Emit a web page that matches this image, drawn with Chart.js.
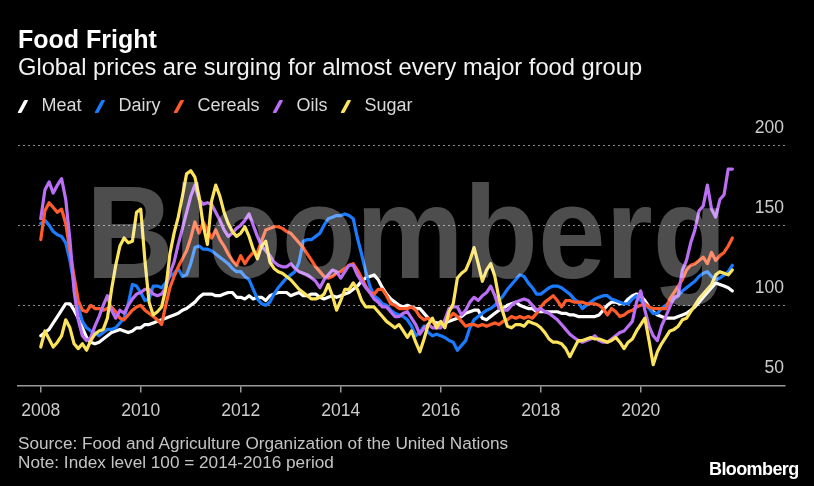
<!DOCTYPE html>
<html>
<head>
<meta charset="utf-8">
<script src="https://cdn.jsdelivr.net/npm/chart.js@4.4.1/dist/chart.umd.min.js"></script>
<style>
  html, body { margin: 0; padding: 0; background: #000; }
  #wrap { position: relative; width: 814px; height: 486px; background: #000; overflow: hidden; font-family: "Liberation Sans", Arial, sans-serif; }
  #c { position: absolute; left: 0; top: 0; }
  .txt { position: absolute; white-space: nowrap; line-height: 1; }
  .slash { position: absolute; width: 3.5px; height: 12.5px; transform: skewX(-28deg); border-radius: 1px; }
</style>
</head>
<body>
<div id="wrap">
  <canvas id="c" width="814" height="486"></canvas>
  <div class="txt" id="title" style="left:18px;top:27px;font-weight:bold;font-size:25px;color:#fff;">Food Fright</div>
  <div class="txt" id="subtitle" style="left:18px;top:55.5px;font-size:23.7px;color:#f2f2f2;">Global prices are surging for almost every major food group</div>
  <div id="legend"></div>
  <div class="txt" style="left:18px;top:434.5px;font-size:17.2px;color:#c4c4c4;">Source: Food and Agriculture Organization of the United Nations</div>
  <div class="txt" style="left:18px;top:453.5px;font-size:17.2px;color:#c4c4c4;">Note: Index level 100 = 2014-2016 period</div>
  <div class="txt" style="left:709px;top:459.5px;font-size:18px;font-weight:bold;letter-spacing:-0.6px;color:#fff;">Bloomberg</div>
</div>
<script>
// ---- Data (FAO sub-indices, monthly Jan 2008 - Nov 2021, 2014-2016 = 100) ----
const startYear = 2008;
const seriesNames = ["Meat", "Dairy", "Cereals", "Oils", "Sugar"];
const seriesColors = ["#ffffff", "#1b7bff", "#ff5b2b", "#bb6ff5", "#fbe35b"];
const yearTicks = [2008, 2010, 2012, 2014, 2016, 2018, 2020];
const valueTicks = [50, 100, 150, 200];

const meat = [
  81, 83, 85, 89, 93, 97, 101, 101, 97, 92, 86, 80,
  77, 76, 77, 79, 81, 83, 84, 85, 84, 83, 84, 86,
  86, 88, 88, 89, 90, 91, 92, 93, 94, 95, 97, 98,
  100, 102, 105, 107, 107, 107, 106, 106, 107, 108, 108, 105,
  105, 104, 106, 104, 105, 105, 103, 106, 107, 108, 108, 108,
  106, 107, 108, 106, 106, 107, 107, 105, 104, 105, 106, 105,
  106, 107, 108, 110, 112, 115, 117, 118, 119, 116, 111, 107,
  104, 102, 100, 99, 100, 99, 98, 98, 95, 92, 90, 89,
  89, 89, 90, 91, 92, 93, 95, 96, 97, 97, 92, 91,
  93, 95, 97, 98, 100, 101, 102, 100, 99, 98, 98, 96,
  96, 96, 96, 96, 96, 95, 95, 94, 94, 93, 93, 93,
  93, 93, 94, 97, 100, 102, 102, 101, 101, 104, 106, 107,
  106, 103, 99, 96, 94, 93, 92, 92, 92, 93, 94, 95,
  97, 99, 102, 105, 108, 111, 114, 113, 112, 111, 109
];
const dairy = [
  151, 153, 150, 146, 144, 143, 139, 128, 113, 99, 90, 86,
  84, 83, 81, 83, 85, 85, 86, 89, 92, 101, 113, 112,
  108, 103, 104, 112, 112, 111, 114, 118, 120, 123, 118, 119,
  126, 136, 137, 135, 135, 134, 132, 130, 128, 126, 123, 121,
  121, 118, 116, 110, 104, 101, 100, 102, 107, 111, 114, 117,
  119, 121, 127, 140, 141, 141, 143, 145, 150, 154, 155, 156,
  156, 157, 156, 154, 142, 132, 121, 112, 106, 104, 101, 100,
  97, 95, 94, 93, 91, 87, 81, 83, 87, 83, 81, 82,
  81, 80, 78, 77, 72, 75, 78, 86, 91, 93, 95, 97,
  98, 100, 103, 106, 110, 113, 116, 119, 118, 114, 111, 107,
  107, 109, 111, 112, 112, 111, 109, 107, 104, 102, 98, 100,
  102, 104, 105, 106, 106, 104, 103, 102, 101, 101, 104, 106,
  103, 101, 98, 95, 95, 98, 100, 102, 104, 106, 109, 111,
  113, 115, 118, 120, 121, 118, 116, 117, 119, 121, 125
];
const cereals = [
  141, 159, 164, 161, 158, 160, 151, 134, 118, 103, 97, 96,
  100, 98, 98, 97, 98, 99, 96, 92, 91, 94, 97, 99,
  100, 97, 95, 93, 91, 88, 100, 111, 118, 124, 129, 134,
  142, 152, 145, 152, 147, 142, 147, 141, 137, 132, 128, 125,
  131, 126, 130, 133, 133, 140, 147, 148, 149, 149, 148, 146,
  145, 142, 139, 136, 132, 128, 124, 121, 118, 117, 118, 120,
  121, 123, 125, 126, 122, 117, 112, 108, 107, 110, 110, 106,
  101, 100, 98, 98, 98, 99, 97, 93, 91, 92, 90, 87,
  87, 90, 92, 95, 93, 90, 87, 88, 88, 87, 88, 87,
  88, 89, 88, 90, 91, 93, 92, 93, 92, 93, 92, 95,
  99, 102, 104, 106, 103, 99, 103, 103, 102, 102, 102, 101,
  101, 101, 100, 98, 94, 98, 96, 93, 94, 96, 97, 99,
  100, 101, 99, 98, 98, 98, 98, 104, 108, 112, 116, 122,
  125, 126, 128, 130, 126, 133, 128, 131, 133, 137, 142
];
const oils = [
  154, 172, 177, 170, 175, 179, 166, 141, 109, 91, 81, 78,
  80, 87, 93, 100, 106, 97, 92, 97, 95, 100, 104, 107,
  108, 110, 110, 107, 106, 107, 111, 120, 127, 138, 148, 158,
  168, 175, 166, 163, 164, 163, 158, 153, 147, 143, 145, 148,
  150, 153, 157, 150, 143, 137, 134, 131, 127, 125, 124, 124,
  126, 123, 121, 120, 119, 117, 115, 111, 116, 119, 122, 121,
  117, 121, 125, 125, 119, 115, 111, 108, 104, 102, 99, 99,
  96, 93, 93, 95, 96, 92, 88, 82, 86, 88, 86, 86,
  86, 91, 98, 99, 99, 94, 97, 102, 105, 103, 106, 108,
  112, 106, 98, 97, 97, 100, 102, 103, 104, 103, 100, 97,
  98, 96, 95, 93, 91, 88, 85, 82, 80, 78, 77, 78,
  79, 81, 78, 77, 77, 79, 81, 83, 84, 87, 90, 102,
  109, 97, 87, 81, 78, 87, 93, 99, 105, 106, 122, 128,
  139, 147, 159, 162, 175, 160, 155, 166, 169, 185, 185
];
const sugar = [
  74, 84, 79, 74, 77, 81, 91, 86, 76, 73, 76, 72,
  78, 82, 84, 85, 92, 110, 125, 137, 142, 139, 140, 158,
  160, 128, 102, 94, 96, 99, 110, 132, 145, 155, 168, 182,
  184, 180, 168, 150, 138, 165, 175, 168, 158, 151, 146, 143,
  145, 149, 143, 135, 129, 137, 140, 127, 123, 121, 120, 118,
  116, 113, 110, 108, 106, 104, 104, 105, 107, 113, 106, 97,
  103, 110, 110, 114, 110, 103, 99, 99, 99, 96, 93, 90,
  88, 86, 88, 84, 80, 84, 77, 71, 79, 88, 92, 86,
  90, 86, 96, 101, 117, 120, 122, 128, 136, 126, 115, 122,
  126, 118, 104, 95, 87, 86, 88, 88, 87, 90, 89, 88,
  86, 83, 79, 77, 77, 76, 73, 68, 73, 78, 78, 79,
  80, 79, 79, 78, 77, 78, 80, 77, 73, 77, 79, 84,
  88, 92, 78, 63, 71, 76, 80, 84, 85, 87, 91, 92,
  96, 100, 104, 107, 110, 113, 119, 121, 120, 119, 122
];
const seriesValues = [meat, dairy, cereals, oils, sugar];

// ---- Legend (HTML) ----
const FONT = '"Liberation Sans", Arial, sans-serif';
(function buildLegend() {
  const legend = document.getElementById('legend');
  const mctx = document.createElement('canvas').getContext('2d');
  mctx.font = '18px ' + FONT;
  let x = 19;
  seriesNames.forEach((name, i) => {
    const s = document.createElement('div');
    s.className = 'slash';
    s.style.left = (x + 1.5) + 'px';
    s.style.top = '99.5px';
    s.style.background = seriesColors[i];
    legend.appendChild(s);
    const t = document.createElement('div');
    t.className = 'txt';
    t.textContent = name;
    t.style.left = (x + 22.5) + 'px';
    t.style.top = '96.3px';
    t.style.fontSize = '18px';
    t.style.color = '#d9d9d9';
    legend.appendChild(t);
    x = x + 22.5 + mctx.measureText(name).width + 14.5;
  });
})();

// ---- Watermark plugin (drawn over the lines, translucent) ----
const watermark = {
  id: 'watermark',
  afterDatasetsDraw(chart) {
    const ctx = chart.ctx;
    ctx.save();
    ctx.font = 'bold 132px ' + FONT;
    ctx.fillStyle = 'rgba(255,255,255,0.3)';
    ctx.textAlign = 'left';
    ctx.textBaseline = 'alphabetic';
    ctx.fillText('Bloomberg', 86, 278, 641);
    ctx.restore();
  }
};

const datasets = seriesNames.map((name, i) => ({
  label: name,
  data: seriesValues[i].map((v, k) => ({ x: startYear + k / 12, y: v })),
  borderColor: seriesColors[i],
  backgroundColor: seriesColors[i],
  borderWidth: 3.2,
  pointRadius: 0,
  tension: 0,
  fill: false,
  borderJoinStyle: 'round',
  borderCapStyle: 'round',
  order: seriesNames.length - 1 - i
}));

new Chart(document.getElementById('c'), {
  type: 'line',
  data: { datasets },
  plugins: [watermark],
  options: {
    responsive: false,
    animation: false,
    devicePixelRatio: 1,
    layout: { padding: { left: 18, right: 29, top: 145, bottom: 55.5 } },
    plugins: { legend: { display: false }, tooltip: { enabled: false }, title: { display: false } },
    scales: {
      x: {
        type: 'linear',
        min: 2007.545,
        max: 2022.886,
        afterBuildTicks: (scale) => { scale.ticks = yearTicks.map(v => ({ value: v })); },
        grid: { display: true, drawOnChartArea: false, drawTicks: true, tickLength: 7, color: '#9a9a9a', lineWidth: 1.5 },
        border: { display: true, color: '#9a9a9a', width: 1.5 },
        ticks: {
          padding: 8.5,
          color: '#cccccc',
          font: { family: FONT, size: 17.5 },
          maxRotation: 0,
          autoSkip: false,
          callback: (v) => String(v)
        }
      },
      y: {
        type: 'linear',
        position: 'right',
        min: 50,
        max: 200,
        afterBuildTicks: (scale) => { scale.ticks = valueTicks.map(v => ({ value: v })); },
        grid: { display: true, drawTicks: false, color: '#8a8a8a', lineWidth: 1 },
        border: { display: false, dash: [2, 3] },
        ticks: {
          mirror: true,
          padding: -1,
          labelOffset: -17,
          color: '#cccccc',
          font: { family: FONT, size: 17.5 },
          callback: (v) => String(v)
        }
      }
    }
  }
});
</script>
</body>
</html>
